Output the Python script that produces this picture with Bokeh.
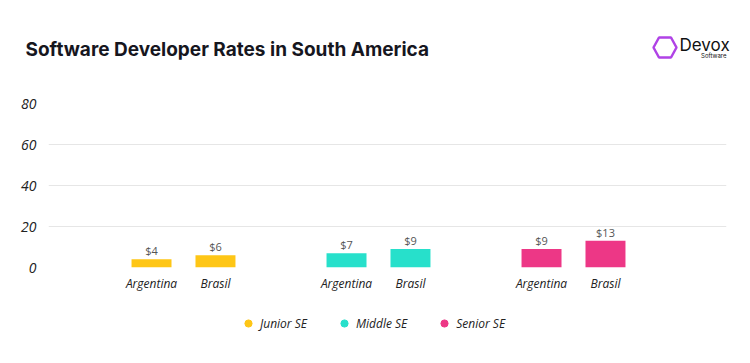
from bokeh.plotting import figure
from bokeh.layouts import column
from bokeh.models import (ColumnDataSource, Range1d, FixedTicker, CustomJSTickFormatter,
                          Legend, LegendItem, Label, PolyAnnotation)
from bokeh.core.properties import value
from bokeh.embed import file_html
from bokeh.resources import INLINE

# ---- data ----
levels = ["Junior SE", "Middle SE", "Senior SE"]
countries = ["Argentina", "Brasil"]
junior = [4, 6]
middle = [7, 9]
senior = [9, 13]
y_ticks = [0, 20, 40, 60, 80]
title_text = "Software Developer Rates in South America"

series = [junior, middle, senior]
colors = ["#FEC616", "#27E0CB", "#ED3786"]
offsets = [-0.164, 0.164]
bar_width = 0.205

W = 750

# ---------- header (title + logo) ----------
header = figure(width=W, height=95, output_backend="svg", toolbar_location=None,
                x_range=Range1d(0, W), y_range=Range1d(95, 0),
                x_axis_type=None, y_axis_type=None, min_border=0, frame_align=False)
header.outline_line_color = None
header.xgrid.grid_line_color = None
header.ygrid.grid_line_color = None
header.add_layout(Label(x=25, y=49, text=title_text,
                        text_font="Inter", text_font_style="bold", text_font_size="19px",
                        text_color="#16161E", text_baseline="alphabetic", text_align="left"))
header.add_layout(PolyAnnotation(xs=[653, 658.5, 670.5, 676, 670.5, 658.5],
                                 ys=[47, 37, 37, 47, 57, 57],
                                 fill_alpha=0, line_color="#B043E6", line_alpha=1,
                                 line_width=2.5))
header.add_layout(Label(x=679, y=44, text="Devox",
                        text_font="Inter", text_font_size="17px", text_color="#111111",
                        text_baseline="alphabetic", text_align="left"))
header.add_layout(Label(x=726, y=55, text="Software",
                        text_font="Inter", text_font_size="6px", text_color="#111111",
                        text_baseline="alphabetic", text_align="right"))

# ---------- main chart ----------
p = figure(width=W, height=202, output_backend="svg", toolbar_location=None,
           x_range=Range1d(-0.6923, 2.7846), y_range=Range1d(0, 80),
           min_border_left=48, min_border_right=24, min_border_top=8, min_border_bottom=30)
p.outline_line_color = None

all_x = []
for gi, (lvl, vals, col) in enumerate(zip(levels, series, colors)):
    xs = [gi + o for o in offsets]
    all_x += xs
    src = ColumnDataSource(dict(x=xs, v=vals, country=countries,
                                lbl=["$" + str(v) for v in vals]))
    p.vbar(x="x", top="v", bottom=0, width=bar_width, source=src,
           fill_color=col, line_color=None)
    p.text(x="x", y="v", text="lbl", source=src, y_offset=-1,
           text_align="center", text_baseline="bottom",
           text_font=value("Open Sans"), text_font_size="11px", text_color="#555555")

p.xaxis.ticker = FixedTicker(ticks=all_x)
p.xaxis.formatter = CustomJSTickFormatter(args=dict(countries=countries),
    code="return (tick - Math.round(tick)) < 0 ? countries[0] : countries[1];")
p.xaxis.axis_line_color = None
p.xaxis.major_tick_line_color = None
p.xaxis.minor_tick_line_color = None
p.xaxis.major_label_text_font = "Open Sans"
p.xaxis.major_label_text_font_style = "italic"
p.xaxis.major_label_text_font_size = "12px"
p.xaxis.major_label_text_color = "#222222"
p.xaxis.major_label_standoff = 1

p.yaxis.ticker = FixedTicker(ticks=y_ticks)
p.yaxis.axis_line_color = None
p.yaxis.major_tick_line_color = None
p.yaxis.minor_tick_line_color = None
p.yaxis.major_label_text_font = "Open Sans"
p.yaxis.major_label_text_font_style = "italic"
p.yaxis.major_label_text_font_size = "14px"
p.yaxis.major_label_text_color = "#222222"
p.yaxis.major_label_standoff = 6

p.xgrid.grid_line_color = None
p.ygrid.grid_line_color = "#E6E6E6"
p.ygrid.grid_line_width = 1

# ---------- footer (legend) ----------
footer = figure(width=W, height=66, output_backend="svg", toolbar_location=None,
                x_range=Range1d(0, 1), y_range=Range1d(1000, 2000),
                x_axis_type=None, y_axis_type=None, min_border=0, frame_align=False)
footer.outline_line_color = None
footer.xgrid.grid_line_color = None
footer.ygrid.grid_line_color = None
items = []
for lvl, vals, col in zip(levels, series, colors):
    # legend-only renderer (its data lies outside this strip's view)
    r = footer.scatter(x=list(range(len(vals))), y=vals, marker="circle",
                       fill_color=col, line_color=col)
    items.append(LegendItem(label=lvl, renderers=[r]))
legend = Legend(items=items, orientation="horizontal", location=(239, 31),
                label_text_font="Open Sans", label_text_font_style="italic",
                label_text_font_size="12px", label_text_color="#222222",
                glyph_width=18, glyph_height=18, label_height=18, label_standoff=3,
                spacing=28, padding=0, margin=0,
                border_line_alpha=0, background_fill_alpha=0)
footer.add_layout(legend, "center")

layout = column(header, p, footer, spacing=0)
open("out.html", "w").write(file_html(layout, INLINE))
